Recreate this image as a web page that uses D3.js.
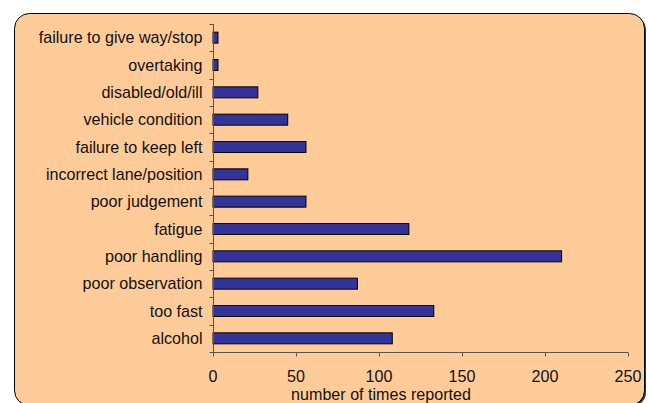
<!DOCTYPE html>
<html><head><meta charset="utf-8">
<script src="https://cdn.jsdelivr.net/npm/d3@7"></script>
<style>html,body{margin:0;padding:0;background:#fff;}svg{display:block;}</style>
</head><body>
<svg id="c" width="649" height="403"></svg>
<script>
const categories = ["failure to give way/stop","overtaking","disabled/old/ill","vehicle condition","failure to keep left","incorrect lane/position","poor judgement","fatigue","poor handling","poor observation","too fast","alcohol"];
const values = [3,3,27,45,56,21,56,118,210,87,133,108];
const xTicks = [0,50,100,150,200,250];
const xTitle = "number of times reported";

const svg = d3.select("#c");
const font = "Liberation Sans, Arial, sans-serif";
const fs = 16.1;
// background panel
svg.append("rect").attr("x",16).attr("y",15).attr("width",630).attr("height",392).attr("rx",15).attr("fill","#333");
svg.append("rect").attr("x",14.5).attr("y",13.5).attr("width",630).attr("height",392).attr("rx",15)
  .attr("fill","#FFCC99").attr("stroke","#000").attr("stroke-width",1);

const x = d3.scaleLinear().domain([0,250]).range([213,628]);
const yb = d3.scaleBand().domain(categories).range([24,352]);

// bars
svg.selectAll("rect.bar").data(categories).join("rect").attr("class","bar")
  .attr("x",x(0)).attr("y",d=>yb(d)+yb.bandwidth()/2-5.5)
  .attr("width",(d,i)=>x(values[i])-x(0)).attr("height",11)
  .attr("fill","#333399").attr("stroke","#000").attr("stroke-width",1);

// y axis
const ya = svg.append("g").attr("transform","translate(213.5,0)");
ya.append("line").attr("y1",24).attr("y2",352).attr("stroke","#555");
const yTickPos = categories.map(c=>yb(c)).concat([352]);
ya.selectAll("line.t").data(yTickPos).join("line").attr("class","t")
  .attr("x1",-4).attr("x2",0).attr("y1",d=>Math.round(d)+0.5).attr("y2",d=>Math.round(d)+0.5).attr("stroke","#555");
ya.selectAll("text").data(categories).join("text")
  .attr("x",-11).attr("y",d=>yb(d)+yb.bandwidth()/2).attr("dy","0.35em")
  .attr("text-anchor","end").attr("font-family",font).attr("font-size",fs).attr("fill","#111").text(d=>d);

// x axis
const xa = svg.append("g").attr("transform","translate(0,352.5)");
xa.append("line").attr("x1",213).attr("x2",628).attr("stroke","#555");
xa.selectAll("line.t").data(xTicks).join("line").attr("class","t")
  .attr("x1",d=>Math.round(x(d))+0.5).attr("x2",d=>Math.round(x(d))+0.5).attr("y1",0).attr("y2",4).attr("stroke","#555");
xa.selectAll("text").data(xTicks).join("text")
  .attr("x",d=>x(d)).attr("y",29).attr("text-anchor","middle")
  .attr("font-family",font).attr("font-size",fs).attr("fill","#111").text(d=>d);

svg.append("text").attr("x",381).attr("y",400).attr("text-anchor","middle")
  .attr("font-family",font).attr("font-size",fs).attr("fill","#111").text(xTitle);
</script>
</body></html>
